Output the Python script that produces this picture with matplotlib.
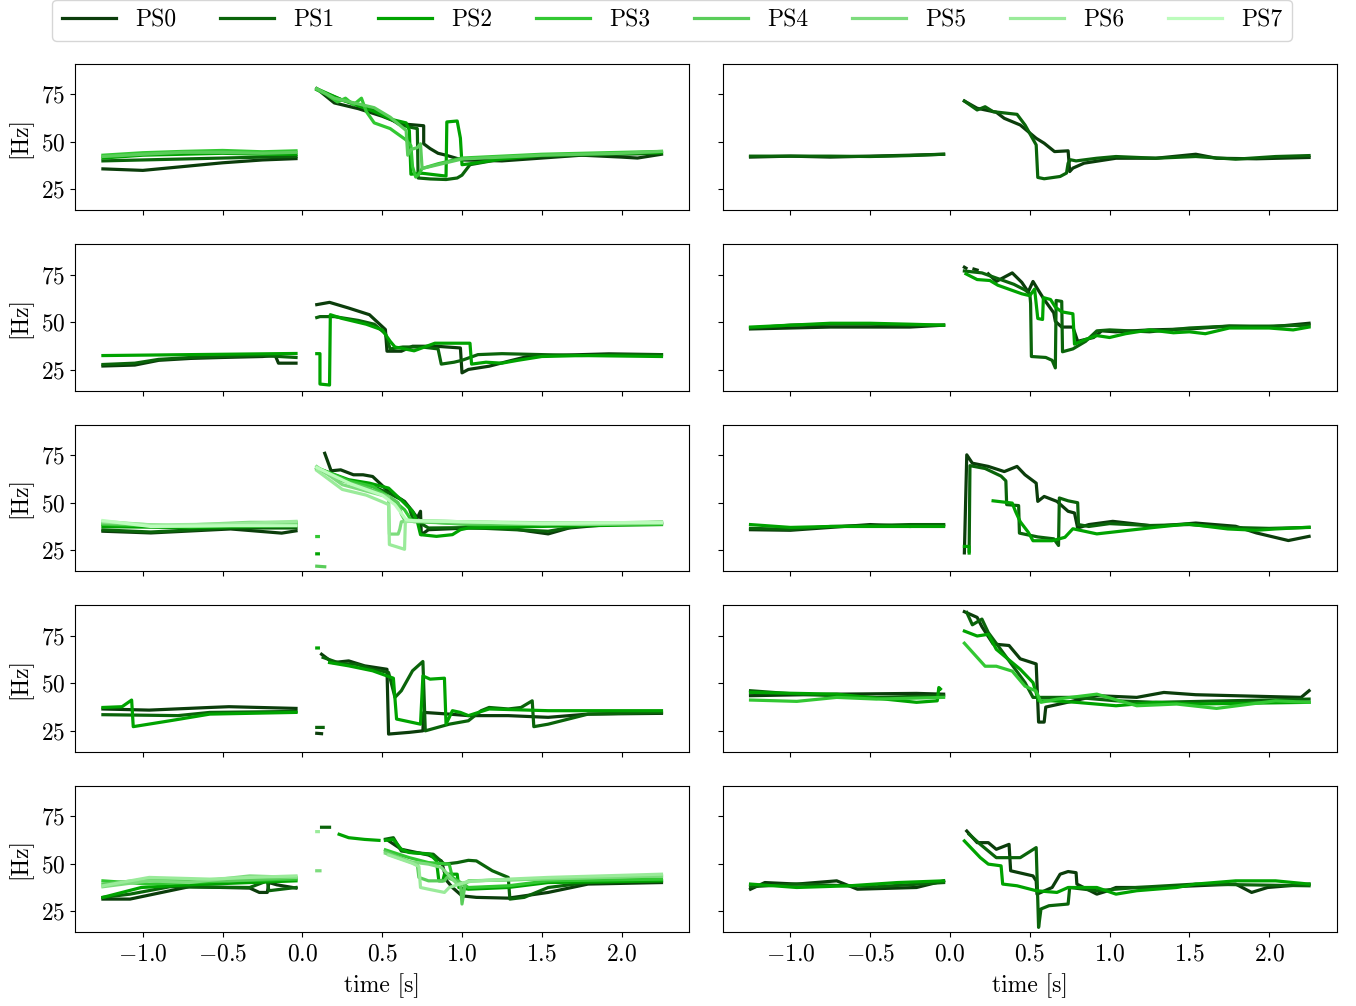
import numpy as np
import matplotlib
matplotlib.use("Agg")
import matplotlib.pyplot as plt

plt.rcParams.update({
    "font.family": "serif",
    "font.serif": ["cmr10"],
    "mathtext.fontset": "cm",
    "axes.formatter.use_mathtext": True,
    "font.size": 17,
    "axes.unicode_minus": True,
})

N = None
labels = ["PS0", "PS1", "PS2", "PS3", "PS4", "PS5", "PS6", "PS7"]
colors = ["#0b3d0b", "#0a640a", "#00a300", "#32c832", "#5acd5a", "#7ddc7d", "#9aeb9a", "#bcfcbc"]
PRE = [-1.25, -1.0, -0.75, -0.5, -0.25, -0.04]

# ---- row 1, left ----
a0_t = PRE + [N, 0.09, 0.2, 0.35, 0.5, 0.62, 0.76, 0.76, 0.8, 0.85, 0.9, 1.0, 1.25, 1.5, 1.75, 2.0, 2.1, 2.25]
a0_v = [35.8, 35.0, 37.0, 39.0, 40.5, 41.2, N, 78, 70.5, 67.5, 63.5, 59.5, 58.5, 49, 46.5, 44, 43, 40.5, 40, 41.5, 43, 42, 41.5, 43.5]
a1_t = PRE + [N, 0.09, 0.25, 0.4, 0.5, 0.6, 0.66, 0.72, 0.725, 0.8, 0.9, 0.97, 1.0, 1.05, 1.25, 1.5, 1.75, 2.0, 2.25]
a1_v = [40.0, 40.5, 41.0, 41.5, 42.0, 42.3, N, 77.5, 72, 68.5, 65, 59.5, 58, 57, 31, 30.5, 30.2, 31, 32.5, 38, 41, 42.5, 43, 43.5, 44]
a2_t = PRE + [N, 0.09, 0.25, 0.45, 0.55, 0.65, 0.67, 0.68, 0.75, 0.9, 0.905, 0.97, 0.99, 1.0, 1.05, 1.25, 1.5, 1.75, 2.0, 2.25]
a2_v = [41.5, 43.0, 43.5, 44.0, 43.5, 43.5, N, 78, 72, 66, 62, 60, 56, 33, 33.5, 32, 60.5, 61, 52, 38, 38.5, 41, 43, 43.5, 44, 44.5]
a3_t = PRE + [N, 0.09, 0.15, 0.22, 0.27, 0.32, 0.37, 0.4, 0.45, 0.55, 0.65, 0.68, 0.69, 0.71, 0.73, 0.75, 0.85, 1.0, 1.25, 1.5, 1.75, 2.0, 2.25]
a3_v = [43.0, 44.3, 45.0, 45.5, 44.8, 45.3, N, 77.5, 75, 71, 73, 69.5, 73, 66, 60, 57, 51, 48, 37, 31.5, 33, 36, 38.5, 41.5, 42.5, 43.5, 44, 44.5, 45]
a4_t = PRE + [N, 0.09, 0.2, 0.35, 0.45, 0.55, 0.65, 0.66, 0.68, 0.72, 0.74, 0.75, 0.85, 1.0, 1.25, 1.5, 1.75, 2.0, 2.25]
a4_v = [42.3, 43.5, 44.5, 44.5, 44.0, 44.5, N, 78, 73, 70, 68, 63, 56, 43, 46, 47, 49, 36, 38, 41, 42, 43, 43.5, 44, 45]

# ---- row 1, right ----
b0_t = PRE + [N, 0.09, 0.17, 0.29, 0.34, 0.44, 0.54, 0.59, 0.655, 0.74, 0.75, 0.77, 0.84, 1.04, 1.29, 1.54, 1.67, 1.92, 2.25]
b0_v = [42.0, 42.5, 42.0, 42.5, 43.0, 43.5, N, 71.5, 67.7, 65.6, 62.4, 58.9, 51.9, 49.3, 44.9, 45.3, 34.4, 36.2, 38.8, 41.4, 41.4, 43.5, 41.4, 41.1, 41.8]
b1_t = PRE + [N, 0.09, 0.17, 0.22, 0.27, 0.42, 0.47, 0.54, 0.55, 0.59, 0.69, 0.73, 0.74, 0.755, 0.79, 0.92, 1.04, 1.29, 1.54, 1.79, 2.04, 2.25]
b1_v = [42.5, 42.5, 42.5, 42.3, 42.8, 43.5, N, 71.5, 66.8, 68.5, 65.9, 64.5, 58.9, 48.4, 31.3, 30.6, 31.8, 33.6, 38.8, 40.6, 40.0, 41.4, 42.3, 41.4, 42.3, 40.9, 42.3, 42.8]

# ---- row 2, left ----
c0_t = [-1.25, -1.05, -0.9, -0.7, -0.5, -0.25, -0.17, -0.15, -0.04, N, 0.09, 0.17, 0.29, 0.42, 0.52, 0.53, 0.62, 0.69, 0.84, 0.99, 1.0, 1.04, 1.17, 1.29, 1.42, 1.92, 2.25]
c0_v = [27.0, 27.5, 30.0, 31.0, 31.5, 32.0, 32.5, 28.5, 28.5, N, 59.3, 60.5, 57.5, 54.0, 46.2, 34.8, 34.8, 37.4, 37.4, 36.5, 23.4, 25.2, 26.9, 29.5, 32.2, 33.4, 33.0]
c1_t = [-1.25, -1.05, -0.9, -0.7, -0.5, -0.25, -0.04, N, 0.09, 0.11, 0.2, 0.35, 0.45, 0.52, 0.55, 0.63, 0.75, 0.85, 0.87, 0.95, 1.0, 1.1, 1.25, 1.5, 1.75, 2.0, 2.25]
c1_v = [27.8, 28.5, 30.5, 31.5, 32.0, 32.5, 31.5, N, 52.5, 53, 53, 51, 49, 44, 36, 37, 37, 36, 28, 29, 30, 33, 33.5, 33, 32.5, 33, 33]
c2_t = [-1.25, -0.7, -0.04, N, 0.09, 0.11, 0.11, 0.17, 0.175, 0.25, 0.4, 0.5, 0.55, 0.58, 0.7, 0.83, 1.0, 1.05, 1.06, 1.15, 1.25, 1.35, 1.5, 1.75, 2.25]
c2_v = [32.5, 33.0, 33.6, N, 33.5, 33.5, 17.5, 17.0, 54, 52, 49, 46, 40, 37, 35, 39, 39, 39, 28, 29, 28.5, 30, 32, 32.5, 32]

# ---- row 2, right ----
d0_t = PRE + [N, 0.09, 0.1, N, 0.15, 0.17, N, 0.24, 0.29, 0.39, 0.45, 0.49, 0.52, 0.56, 0.59, 0.65, 0.66, 0.7, 0.77, 0.8, 0.9, 0.95, 1.04, 1.25, 1.5, 1.75, 2.0, 2.25]
d0_v = [46.5, 47.0, 47.5, 47.5, 47.5, 48.5, N, 79, 78.5, N, 78, 77.5, N, 75.5, 71.5, 76, 71, 66, 71.5, 66, 62, 55, 50.5, 47.5, 47.5, 40, 42, 45.5, 45, 46, 46.5, 48, 47.5, 49.5]
d1_t = PRE + [N, 0.09, 0.2, 0.3, 0.4, 0.47, 0.5, 0.505, 0.51, 0.6, 0.64, 0.66, 0.665, 0.7, 0.705, 0.77, 0.85, 0.92, 1.0, 1.25, 1.5, 1.75, 2.0, 2.25]
d1_v = [47.0, 48.5, 49.0, 49.0, 48.5, 48.5, N, 77, 76, 73, 70, 67, 65, 60, 32, 31.5, 30, 26, 61.5, 61, 34.5, 36, 40, 45.5, 46, 45, 47, 48, 48, 48.5]
d2_t = PRE + [N, 0.1, 0.17, 0.25, 0.3, 0.45, 0.5, 0.53, 0.55, 0.58, 0.585, 0.63, 0.66, 0.7, 0.77, 0.78, 0.85, 0.92, 1.0, 1.1, 1.25, 1.4, 1.5, 1.6, 1.75, 2.0, 2.15, 2.25]
d2_v = [47.5, 48.5, 49.5, 49.5, 49.0, 48.5, N, 75.5, 72.5, 72, 69.5, 65, 64, 67.5, 52, 51.5, 63, 62, 58, 55.5, 54.5, 38.5, 41, 43, 42, 44, 46, 44.5, 45, 44, 47, 47, 46, 47.5]

# ---- row 3, left ----
e0_t = [-1.25, -0.95, -0.45, -0.13, -0.04, N, 0.14, 0.18, 0.24, 0.32, 0.38, 0.44, 0.54, 0.64, 0.69, 0.72, 0.74, 0.745, 0.79, 1.04, 1.29, 1.42, 1.54, 1.67, 1.79, 2.04, 2.25]
e0_v = [35.0, 34.1, 36.2, 34.0, 35.2, N, 76.0, 66.8, 67.3, 64.7, 64.7, 63.8, 55.9, 50.7, 45.5, 42.0, 45.5, 33.2, 35.8, 36.7, 36.7, 35.0, 33.6, 36.7, 37.6, 39.3, 39.7]
e1_t = [-1.25, -0.95, -0.45, -0.04, N, 0.09, 0.29, 0.44, 0.54, 0.62, 0.67, 0.69, 0.72, 0.79, 1.04, 1.54, 1.79, 2.25]
e1_v = [35.7, 34.6, 36.7, 36.7, N, 68.2, 61.2, 58.6, 55.1, 51.6, 47.2, 42.0, 40.2, 36.7, 36.9, 35.0, 38.5, 39.3]
e2_t = [-1.25, -0.7, -0.04, N, 0.09, 0.1, N, 0.09, 0.29, 0.42, 0.54, 0.64, 0.69, 0.72, 0.74, 0.84, 0.94, 0.99, 1.04, 1.54, 2.25]
e2_v = [37.4, 36.9, 37.9, N, 23.1, 23.1, N, 68.2, 62.1, 60.3, 57.7, 49.8, 45.5, 40.2, 33.2, 32.3, 33.2, 35.8, 36.7, 37.6, 38.5]
e3_t = [-1.25, -0.7, -0.04, N, 0.09, 0.1, N, 0.09, 0.29, 0.44, 0.54, 0.64, 0.68, 0.74, 1.04, 2.25]
e3_v = [38.6, 37.4, 39.1, N, 32.2, 32.2, N, 68.5, 61.5, 58.6, 53.3, 46.3, 41.1, 40.2, 38.5, 38.8]
e4_t = [-1.25, -0.83, -0.04, N, 0.09, 0.14, N, 0.09, 0.25, 0.4, 0.55, 0.6, 0.62, 0.64, 0.7, 1.0, 1.5, 2.25]
e4_v = [39.1, 37.9, 39.7, N, 16.6, 16.3, N, 68, 61.5, 58, 53, 50, 44, 41, 40, 39, 38.5, 39]
e5_t = [-1.25, -0.83, -0.33, -0.04, N, 0.09, 0.25, 0.45, 0.54, 0.545, 0.6, 0.61, 0.62, 0.75, 1.0, 1.25, 1.5, 1.75, 2.0, 2.25]
e5_v = [39.7, 37.9, 39.7, 39.7, N, 69, 59.5, 55, 53, 33.5, 33.5, 36, 40, 40.5, 40, 39.5, 39, 38.5, 39, 39.5]
e6_t = [-1.25, -0.95, -0.45, -0.04, N, 0.09, 0.25, 0.4, 0.5, 0.54, 0.545, 0.64, 0.645, 0.7, 1.0, 1.5, 2.0, 2.25]
e6_v = [40.2, 38.3, 38.8, 40.2, N, 67, 57, 54, 50.5, 49, 28, 25.5, 40, 40.5, 40, 39.5, 39.5, 40]
e7_t = [-1.25, -0.95, -0.45, -0.04, N, 0.09, 0.3, 0.5, 0.58, 0.65, 0.7, 1.0, 1.5, 2.0, 2.25]
e7_v = [40.6, 37.5, 37.9, 37.9, N, 68.5, 60, 54, 49, 41, 40.5, 40, 39, 39.5, 39.5]

# ---- row 3, right ----
f0_t = PRE + [N, 0.09, 0.105, 0.14, 0.24, 0.34, 0.42, 0.47, 0.54, 0.55, 0.59, 0.67, 0.74, 0.78, 0.8, 0.87, 1.02, 1.29, 1.54, 1.79, 1.92, 2.12, 2.25]
f0_v = [35.8, 35.5, 37.0, 38.5, 37.5, 38.3, N, 23.6, 75.2, 70.8, 69.1, 66.4, 69.1, 64.7, 60.3, 50.7, 53.3, 50.7, 45.5, 44.6, 36.7, 38.5, 40.2, 37.6, 39.3, 37.6, 34.1, 30.1, 32.3]
f1_t = PRE + [N, 0.12, 0.125, 0.22, 0.32, 0.35, 0.355, 0.43, 0.435, 0.55, 0.65, 0.68, 0.685, 0.74, 0.8, 0.805, 0.87, 1.0, 1.25, 1.5, 1.75, 2.0, 2.25]
f1_v = [36.5, 36.0, 37.5, 38.0, 38.5, 38.5, N, 24.5, 69.5, 68, 64, 61.5, 49, 48.5, 34, 32, 31, 27.5, 52.5, 51, 50, 38.5, 37.5, 39, 38, 38.5, 37, 36.5, 37]
f2_t = PRE + [N, 0.09, 0.12, 0.12, N, 0.27, 0.39, 0.41, 0.44, 0.49, 0.52, 0.64, 0.72, 0.77, 0.92, 1.29, 1.49, 1.74, 1.92, 2.04, 2.25]
f2_v = [38.5, 37.0, 37.5, 37.5, 37.5, 37.5, N, 27, 27, 23.5, N, 51, 49.8, 45.5, 40, 34.5, 30, 30, 31.8, 36.3, 33.6, 37.1, 38.8, 36.2, 35.5, 36.2, 37.1]

# ---- row 4, left ----
g0_t = [-1.25, -0.96, -0.58, -0.46, -0.04, N, 0.09, 0.12, N, 0.12, 0.19, 0.29, 0.39, 0.53, 0.54, 0.67, 0.755, 0.76, 0.92, 1.04, 1.29, 1.54, 1.79, 2.25]
g0_v = [36.4, 35.8, 37.2, 37.6, 36.7, N, 23.6, 23.4, N, 65.2, 60.8, 61.7, 59.1, 57.3, 23.2, 24.1, 24.9, 34.6, 33.7, 32.9, 32.9, 32.0, 33.7, 34.1]
g1_t = [-1.25, -0.78, -0.58, -0.04, N, 0.09, 0.13, N, 0.13, 0.24, 0.34, 0.44, 0.54, 0.58, 0.62, 0.69, 0.755, 0.77, 0.92, 1.04, 1.12, 1.17, 1.29, 1.37, 1.44, 1.45, 1.54, 1.79, 2.25]
g1_v = [33.4, 32.9, 34.6, 35.1, N, 26.7, 26.7, N, 63.5, 60.3, 59.9, 57.3, 55.6, 42.5, 46.0, 56.5, 61.4, 24.9, 28.4, 30.2, 35.5, 37.2, 36.4, 37.2, 40.7, 27.1, 28.4, 33.7, 34.6]
g2_t = [-1.25, -1.13, -1.07, -1.06, -0.83, -0.58, -0.04, N, 0.09, 0.1, N, 0.17, 0.29, 0.44, 0.57, 0.59, 0.74, 0.755, 0.8, 0.89, 0.9, 0.94, 0.99, 1.04, 1.17, 1.54, 2.25]
g2_v = [37.2, 37.6, 41.1, 27.1, 30.2, 33.7, 34.6, N, 68.5, 68.5, N, 60.8, 59.1, 56.5, 52.6, 31.1, 28.4, 53.8, 52.1, 52.6, 28.4, 35.5, 34.6, 32.9, 36.4, 35.5, 35.5]

# ---- row 4, right ----
h0_t = [-1.25, -0.71, -0.21, -0.04, N, 0.09, 0.17, 0.2, 0.27, 0.37, 0.44, 0.54, 0.555, 0.59, 0.6, 0.74, 0.92, 1.17, 1.34, 1.54, 2.2, 2.25]
h0_v = [43.4, 44.2, 44.6, 44.2, N, 87.6, 84.6, 79.7, 70.6, 69.8, 62.8, 60.1, 29.5, 29.5, 37.4, 40.0, 43.4, 42.5, 45.1, 43.9, 42.5, 46.0]
h1_t = [-1.25, -0.96, -0.46, -0.04, N, 0.105, 0.14, 0.2, 0.24, 0.34, 0.47, 0.52, 0.59, 0.79, 1.04, 1.29, 2.25]
h1_v = [46.0, 44.2, 42.5, 43.4, N, 87.2, 80.7, 83.7, 76.6, 65.2, 50.3, 42.5, 42.5, 42.5, 40.7, 39.9, 41.6]
h2_t = [-1.25, -0.71, -0.21, -0.08, -0.07, -0.06, N, 0.09, 0.17, 0.24, 0.29, 0.44, 0.52, 0.555, 0.64, 0.79, 1.04, 1.29, 1.54, 2.25]
h2_v = [45.1, 44.2, 39.9, 40.7, 47.7, 46.9, N, 77.4, 74.8, 75.7, 67.8, 57.3, 50.3, 40.7, 40.7, 39.9, 38.1, 39.9, 39.0, 39.9]
h3_t = [-1.25, -0.96, -0.71, -0.46, -0.04, N, 0.09, 0.22, 0.29, 0.39, 0.47, 0.54, 0.57, 0.67, 0.92, 1.17, 1.42, 1.67, 2.04, 2.25]
h3_v = [41.1, 40.4, 42.5, 41.6, 42.5, N, 71.0, 58.9, 58.9, 56.3, 48.4, 45.8, 39.9, 41.6, 44.2, 38.1, 39.0, 36.7, 40.7, 39.9]

# ---- row 5, left ----
i0_t = [-1.25, -1.08, -0.83, -0.71, -0.33, -0.27, -0.22, -0.21, -0.16, -0.04, N, 0.54, 0.62, 0.79, 0.87, 0.905, 0.94, 1.0, 1.09, 1.29, 1.54, 1.79, 2.25]
i0_v = [31.3, 31.3, 35.7, 37.8, 37.1, 34.8, 34.8, 40.0, 38.8, 37.1, N, 62.0, 57.5, 54.5, 51.4, 40.9, 37.4, 33.0, 32.2, 31.8, 34.8, 39.2, 40.0]
i1_t = [-1.25, -1.08, -0.83, -0.33, -0.22, -0.21, -0.04, N, 0.12, 0.17, N, 0.52, 0.57, 0.62, 0.69, 0.82, 0.89, 0.97, 1.04, 1.09, 1.19, 1.29, 1.3, 1.39, 1.54, 1.79, 2.25]
i1_v = [32.2, 33.9, 37.8, 37.4, 40.9, 35.7, 37.4, N, 69.1, 69.1, N, 62.8, 63.6, 56.6, 55.8, 54.9, 49.7, 50.5, 51.7, 51.4, 46.2, 42.7, 31.3, 32.2, 37.4, 40.0, 40.9]
i2_t = [-1.25, -1.01, -0.71, -0.04, N, 0.23, 0.29, 0.39, 0.48, N, 0.52, 0.57, 0.62, 0.67, 0.8, 0.84, 0.855, 0.88, 0.89, 0.97, 0.98, 1.04, 1.29, 1.54, 2.25]
i2_v = [32.2, 37.4, 38.8, 40.9, N, 65.4, 63.6, 62.7, 62.2, N, 62.2, 62.7, 57.5, 55.8, 54.9, 51.4, 40.9, 40.9, 44.4, 44.4, 37.4, 36.5, 37.4, 40.0, 40.9]
i3_t = [-1.25, -0.96, -0.46, -0.04, N, 0.52, 0.67, 0.79, 0.92, 0.94, 1.04, 1.29, 1.54, 2.25]
i3_v = [40.9, 39.2, 40.9, 41.8, N, 57.2, 53.1, 50.5, 49.7, 42.7, 37.4, 38.3, 40.9, 41.8]
i4_t = [-1.25, -0.96, -0.46, -0.04, N, 0.52, 0.62, 0.72, 0.73, 0.79, 0.89, 0.905, 0.99, 1.0, 1.02, 1.04, 2.25]
i4_v = [39.2, 41.8, 40.9, 42.7, N, 56.3, 52.8, 49.3, 42.7, 40.9, 40.9, 42.7, 40.0, 28.7, 39.2, 40.9, 43.5]
i5_t = [-1.25, -0.96, -0.71, -0.33, -0.04, N, 0.09, 0.11, N, 0.52, 0.67, 0.79, 0.87, 0.97, 1.07, 2.25]
i5_v = [37.8, 40.9, 40.0, 43.5, 42.7, N, 46.2, 46.2, N, 55.4, 51.0, 49.7, 48.0, 39.2, 40.9, 43.5]
i6_t = [-1.25, -0.96, -0.58, -0.33, -0.04, N, 0.09, 0.1, N, 0.54, 0.69, 0.73, 0.74, 0.79, 0.89, 0.92, 1.04, 1.29, 1.54, 2.25]
i6_v = [38.3, 42.7, 41.8, 42.7, 43.5, N, 66.8, 66.8, N, 54.5, 50.1, 48.4, 37.4, 36.5, 34.8, 37.4, 40.6, 41.8, 42.7, 44.4]

# ---- row 5, right ----
j0_t = [-1.25, -1.16, -0.96, -0.71, -0.58, -0.21, -0.04, N, 0.105, 0.17, 0.24, 0.29, 0.37, 0.38, 0.52, 0.54, 0.545, 0.64, 0.69, 0.74, 0.79, 0.795, 0.92, 0.99, 1.04, 1.29, 1.54, 1.79, 1.89, 1.99, 2.25]
j0_v = [36.5, 40.0, 39.2, 40.9, 36.5, 37.4, 40.9, N, 67.1, 61.0, 61.0, 57.5, 60.1, 46.2, 43.5, 40.9, 33.9, 37.4, 44.4, 45.8, 45.2, 39.2, 33.9, 35.7, 37.4, 37.4, 38.3, 39.2, 34.8, 37.4, 39.2]
j1_t = [-1.25, -0.96, -0.46, -0.04, N, 0.12, 0.19, 0.29, 0.44, 0.54, 0.555, 0.57, 0.62, 0.74, 0.75, 0.92, 1.17, 1.54, 2.25]
j1_v = [37.8, 39.2, 37.8, 40.0, N, 65.4, 60.1, 53.1, 53.1, 58.4, 16.4, 26.1, 27.8, 28.7, 37.4, 35.7, 37.4, 39.2, 38.3]
j2_t = [-1.25, -0.96, -0.63, -0.33, -0.04, N, 0.09, 0.19, 0.24, 0.32, 0.33, 0.42, 0.54, 0.67, 0.74, 0.92, 1.04, 1.17, 1.42, 1.54, 1.79, 2.04, 2.25]
j2_v = [39.2, 37.4, 38.3, 40.0, 40.9, N, 61.9, 53.1, 49.7, 48.8, 39.2, 38.3, 35.7, 34.8, 37.4, 37.4, 33.9, 35.7, 37.4, 39.2, 40.9, 40.9, 39.2]

panels = [
    [[(0, a0_t, a0_v), (1, a1_t, a1_v), (2, a2_t, a2_v), (3, a3_t, a3_v), (4, a4_t, a4_v)],
     [(0, b0_t, b0_v), (1, b1_t, b1_v)]],
    [[(0, c0_t, c0_v), (1, c1_t, c1_v), (2, c2_t, c2_v)],
     [(0, d0_t, d0_v), (1, d1_t, d1_v), (2, d2_t, d2_v)]],
    [[(0, e0_t, e0_v), (1, e1_t, e1_v), (2, e2_t, e2_v), (3, e3_t, e3_v), (4, e4_t, e4_v),
      (5, e5_t, e5_v), (6, e6_t, e6_v), (7, e7_t, e7_v)],
     [(0, f0_t, f0_v), (1, f1_t, f1_v), (2, f2_t, f2_v)]],
    [[(0, g0_t, g0_v), (1, g1_t, g1_v), (2, g2_t, g2_v)],
     [(0, h0_t, h0_v), (1, h1_t, h1_v), (2, h2_t, h2_v), (3, h3_t, h3_v)]],
    [[(0, i0_t, i0_v), (1, i1_t, i1_v), (2, i2_t, i2_v), (3, i3_t, i3_v), (4, i4_t, i4_v),
      (5, i5_t, i5_v), (6, i6_t, i6_v)],
     [(0, j0_t, j0_v), (1, j1_t, j1_v), (2, j2_t, j2_v)]],
]

fig, axes = plt.subplots(5, 2, figsize=(13.56, 10.06), dpi=100, sharex=True, sharey=True)
fig.subplots_adjust(left=0.0553, right=0.986, top=0.9364, bottom=0.0736, hspace=0.233, wspace=0.054)

for r in range(5):
    for c in range(2):
        ax = axes[r, c]
        for k, t, v in panels[r][c]:
            ax.plot(np.array(t, dtype=float), np.array(v, dtype=float), color=colors[k], lw=2.3)
        ax.set_xlim(-1.425, 2.425)
        ax.set_ylim(14, 91)
        ax.set_yticks([25, 50, 75])
        ax.set_xticks([-1.0, -0.5, 0.0, 0.5, 1.0, 1.5, 2.0])
        ax.tick_params(axis="x", pad=5)
        if c == 0:
            ax.set_ylabel("[Hz]", labelpad=6)
        if r == 4:
            ax.set_xlabel("time [s]", labelpad=5)

handles = [plt.Line2D([], [], color=col, lw=2.3) for col in colors]
fig.legend(handles, labels, ncol=8, loc="upper center", bbox_to_anchor=(0.4955, 1.012),
           handlelength=2.3, columnspacing=1.85, fontsize=17)

fig.savefig("out.png", dpi=100)
